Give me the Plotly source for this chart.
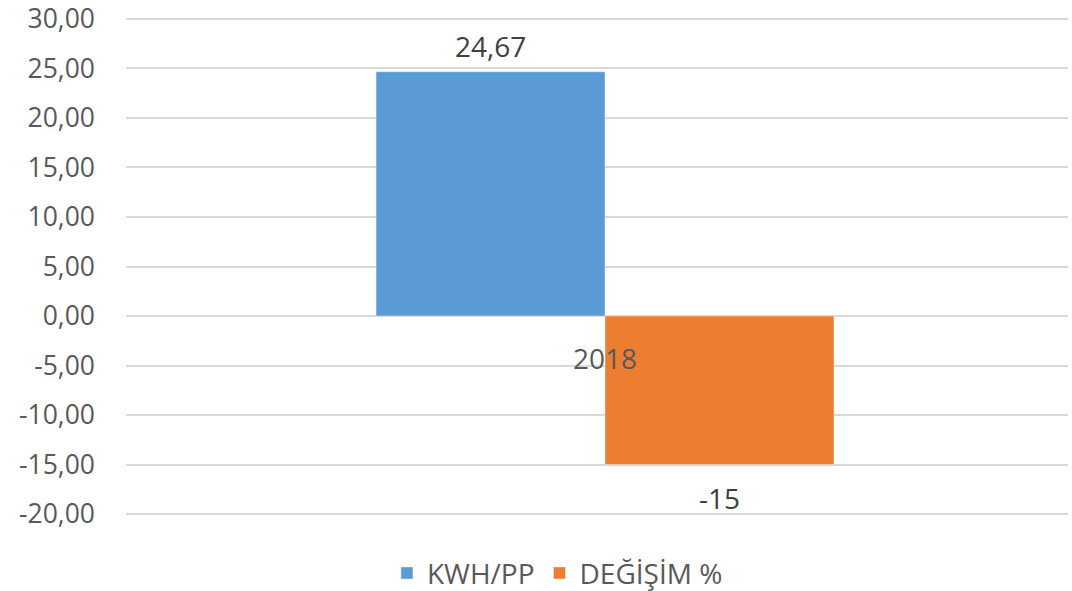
import plotly.graph_objects as go

categories = ["2018"]
kwh_pp = [24.67]
degisim = [-15]
tick_vals = [30, 25, 20, 15, 10, 5, 0, -5, -10, -15, -20]
tick_text = ["30,00", "25,00", "20,00", "15,00", "10,00", "5,00", "0,00",
             "-5,00", "-10,00", "-15,00", "-20,00"]

FONT = "Open Sans"
BLUE = "#5B9BD5"
ORANGE = "#ED7D31"

fig = go.Figure()
fig.add_trace(go.Bar(x=categories, y=kwh_pp, name="KWH/PP", marker_color=BLUE))
fig.add_trace(go.Bar(x=categories, y=degisim, name="DEĞİŞİM %", marker_color=ORANGE))

# data labels
for i, v in enumerate(kwh_pp):
    fig.add_annotation(x=i, y=v, text=f"{v:.2f}".replace(".", ","), showarrow=False,
                       xshift=-114.5, yshift=26, yanchor="middle",
                       font=dict(family=FONT, size=28, color="#404040"))
for i, v in enumerate(degisim):
    fig.add_annotation(x=i, y=v, text=str(v), showarrow=False,
                       xshift=114.5, yshift=-33, yanchor="middle",
                       font=dict(family=FONT, size=28, color="#404040"))
# category label next to the zero axis
for i, c in enumerate(categories):
    fig.add_annotation(x=i, y=0, text=c, showarrow=False, yshift=-42, yanchor="middle",
                       font=dict(family=FONT, size=28, color="#595959"))

fig.update_layout(
    width=1072, height=591,
    margin=dict(l=126, r=4, t=14, b=72),
    paper_bgcolor="white", plot_bgcolor="white",
    barmode="group", bargap=0.522, bargroupgap=0,
    font=dict(family=FONT, size=27, color="#595959"),
    showlegend=True,
    legend=dict(orientation="h", x=0.458, xanchor="center",
                yref="container", y=0.03, yanchor="middle",
                font=dict(family=FONT, size=28, color="#595959"),
                itemwidth=30, traceorder="normal"),
)
fig.update_xaxes(type="category", range=[-0.5, 0.4833], showticklabels=False,
                 showgrid=False, zeroline=False, showline=False, automargin=False)
fig.update_yaxes(range=[-20.5, 30.5], tickvals=tick_vals, ticktext=tick_text,
                 showgrid=True, gridcolor="#D9D9D9", gridwidth=1.5,
                 zeroline=True, zerolinecolor="#D9D9D9", zerolinewidth=1.5,
                 showline=False, ticklabelstandoff=30, automargin=False,
                 ticklabeloverflow="allow",
                 tickfont=dict(family=FONT, size=26.5, color="#595959"))

fig.write_html("out.html", config={"displayModeBar": False},
               post_script="document.body.style.margin='0';document.body.style.overflow='hidden';")
